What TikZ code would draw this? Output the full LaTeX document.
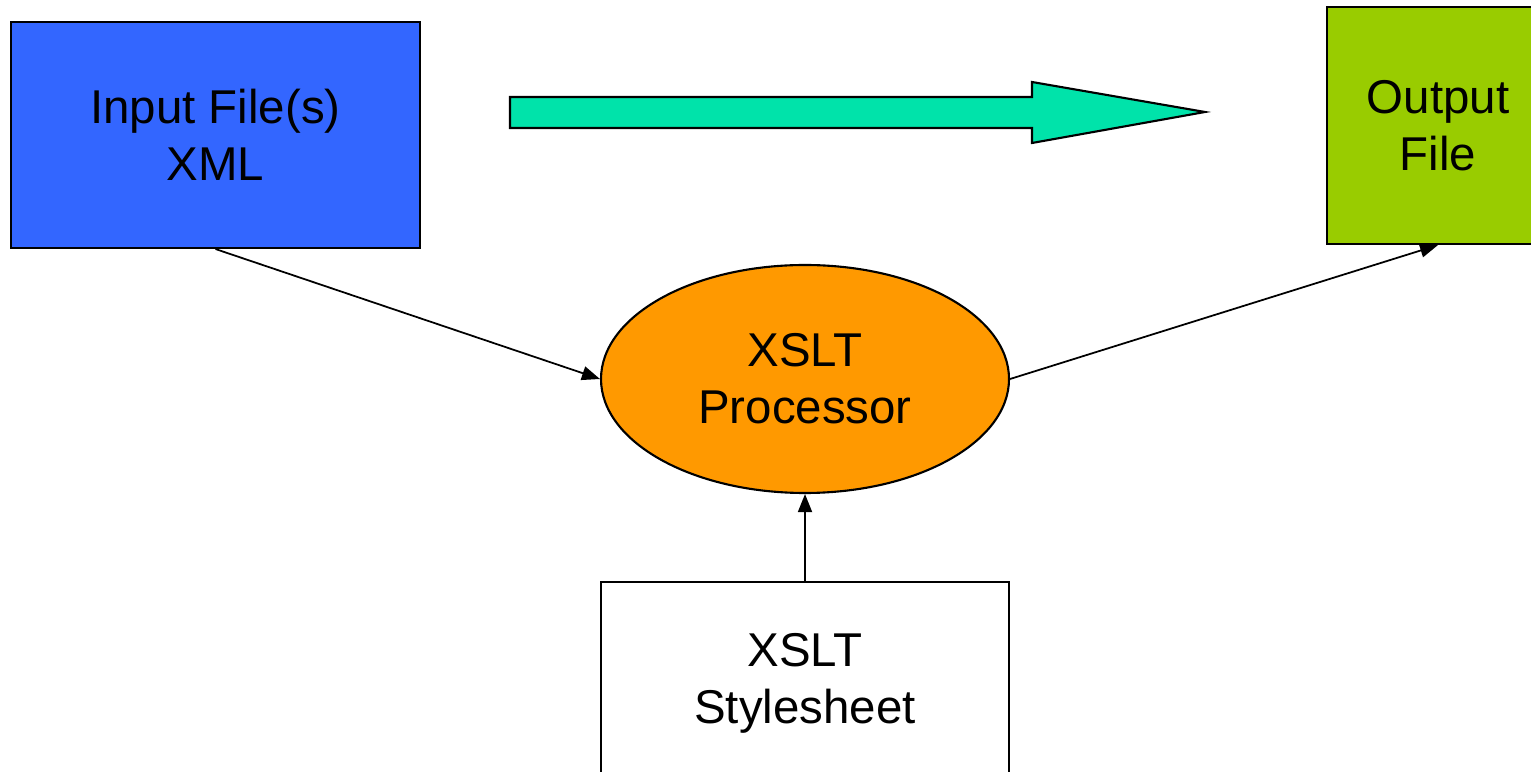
\documentclass[tikz,border=0pt]{standalone}
\usepackage{fontspec}
\setmainfont{Liberation Sans}
\usetikzlibrary{shapes.geometric,arrows.meta}
\definecolor{inblue}{HTML}{3366FF}
\definecolor{outgreen}{HTML}{99CC00}
\definecolor{procorange}{HTML}{FF9900}
\definecolor{flowmint}{HTML}{00E3AA}
\begin{document}
\begin{tikzpicture}[
    filebox/.style={draw,line width=0.6pt,inner sep=0pt,align=center,
        font=\fontsize{13.5}{16.2}\selectfont},
    link/.style={line width=0.5pt,-{Triangle[length=1.8mm,width=1.4mm]}}]
    \useasboundingbox (0,0) rectangle (15.31,7.71);
    \node[filebox,fill=inblue,minimum width=4.09cm,minimum height=2.26cm] (input) at (2.155,6.36) {Input File(s)\\XML};
    \node[filebox,fill=outgreen,minimum width=2.22cm,minimum height=2.37cm] (output) at (14.38,6.455) {Output\\File};
    \node[filebox,ellipse,fill=procorange,minimum width=4.08cm,minimum height=2.28cm] (proc) at (8.05,3.92) {XSLT\\Processor};
    \node[filebox,fill=white,minimum width=4.08cm,minimum height=2.02cm] (sheet) at (8.05,0.88) {XSLT\\Stylesheet};
    \draw[line width=0.6pt,fill=flowmint] (5.10,6.74) -- (10.32,6.74) -- (10.32,6.89) -- (12.05,6.59)
        -- (10.32,6.28) -- (10.32,6.43) -- (5.10,6.43) -- cycle;
    \draw[link] (input.south) -- (proc.west);
    \draw[link] (proc.east) -- (output.south);
    \draw[link] (sheet.north) -- (proc.south);
\end{tikzpicture}
\end{document}
